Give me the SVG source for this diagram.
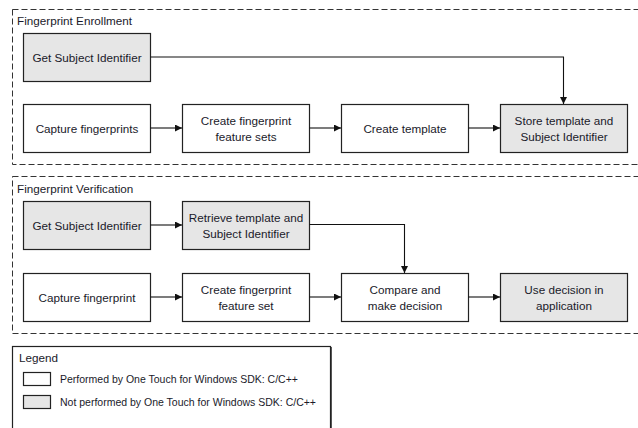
<svg xmlns="http://www.w3.org/2000/svg" width="638" height="428" viewBox="0 0 638 428">
<defs>
<style>
.grp{fill:none;stroke:#333;stroke-width:1;stroke-dasharray:6,3}
.box{fill:#fff;stroke:#222;stroke-width:1.2}
.grey{fill:#e6e6e6;stroke:#222;stroke-width:1.2}
text{font-family:"Liberation Sans",Arial,sans-serif;font-size:11.7px;fill:#1a1a2a;text-anchor:middle;dominant-baseline:central}
.lbl{text-anchor:start}
.conn{fill:none;stroke:#111;stroke-width:1.1;marker-end:url(#ah)}
</style>
<marker id="ah" viewBox="0 0 10 10" refX="10" refY="5" markerWidth="7" markerHeight="7" markerUnits="userSpaceOnUse" orient="auto">
<path d="M0,0 L10,5 L0,10 z" fill="#111"/>
</marker>
</defs>
<rect width="638" height="428" fill="#fff"/>

<g id="enrollment-group">
<rect class="grp" x="12.5" y="9.5" width="640" height="155"/>
<text class="lbl" x="17" y="20">Fingerprint Enrollment</text>
</g>
<g id="verification-group">
<rect class="grp" x="12.5" y="176.5" width="640" height="157"/>
<text class="lbl" x="17" y="188">Fingerprint Verification</text>
</g>

<g id="e-get-subject"><rect class="grey" x="23.5" y="33.5" width="127" height="48"/><text x="87" y="57">Get Subject Identifier</text></g>
<g id="e-capture"><rect class="box" x="23.5" y="104.5" width="127" height="48"/><text x="87" y="128">Capture fingerprints</text></g>
<g id="e-create-features"><rect class="box" x="182.5" y="104.5" width="127" height="48"/><text x="246" y="120">Create fingerprint</text><text x="246" y="136.5">feature sets</text></g>
<g id="e-create-template"><rect class="box" x="341.5" y="104.5" width="127" height="48"/><text x="405" y="128">Create template</text></g>
<g id="e-store"><rect class="grey" x="500.5" y="104.5" width="127" height="48"/><text x="564" y="120">Store template and</text><text x="564" y="136.5">Subject Identifier</text></g>

<g id="v-get-subject"><rect class="grey" x="23.5" y="201.5" width="127" height="48"/><text x="87" y="225">Get Subject Identifier</text></g>
<g id="v-retrieve"><rect class="grey" x="182.5" y="201.5" width="127" height="48"/><text x="246" y="217">Retrieve template and</text><text x="246" y="233.5">Subject Identifier</text></g>
<g id="v-capture"><rect class="box" x="23.5" y="273.5" width="127" height="48"/><text x="87" y="297">Capture fingerprint</text></g>
<g id="v-create-features"><rect class="box" x="182.5" y="273.5" width="127" height="48"/><text x="246" y="289">Create fingerprint</text><text x="246" y="305.5">feature set</text></g>
<g id="v-compare"><rect class="box" x="341.5" y="273.5" width="127" height="48"/><text x="405" y="289">Compare and</text><text x="405" y="305.5">make decision</text></g>
<g id="v-use"><rect class="grey" x="500.5" y="273.5" width="127" height="48"/><text x="564" y="289">Use decision in</text><text x="564" y="305.5">application</text></g>

<g id="connectors">
<path class="conn" d="M150.5,57 H563.5 V104"/>
<path class="conn" d="M150.5,128 H182"/>
<path class="conn" d="M309.5,128 H341"/>
<path class="conn" d="M468.5,128 H500"/>
<path class="conn" d="M150.5,225 H182"/>
<path class="conn" d="M309.5,224.5 H404.5 V273"/>
<path class="conn" d="M150.5,297 H182"/>
<path class="conn" d="M309.5,297 H341"/>
<path class="conn" d="M468.5,297 H500"/>
</g>

<g id="legend">
<rect x="12.5" y="346.5" width="318" height="90" fill="#fff" stroke="#222" stroke-width="1.2"/>
<line x1="331.5" y1="347" x2="331.5" y2="428" stroke="#555" stroke-width="1"/>
<text class="lbl" x="19" y="357">Legend</text>
<rect class="box" x="23.5" y="372.5" width="27" height="13"/>
<text class="lbl" x="60" y="379" style="font-size:10.5px">Performed by One Touch for Windows SDK: C/C++</text>
<rect class="grey" x="23.5" y="395.5" width="27" height="13"/>
<text class="lbl" x="60" y="402" style="font-size:10.5px">Not performed by One Touch for Windows SDK: C/C++</text>
</g>
</svg>
